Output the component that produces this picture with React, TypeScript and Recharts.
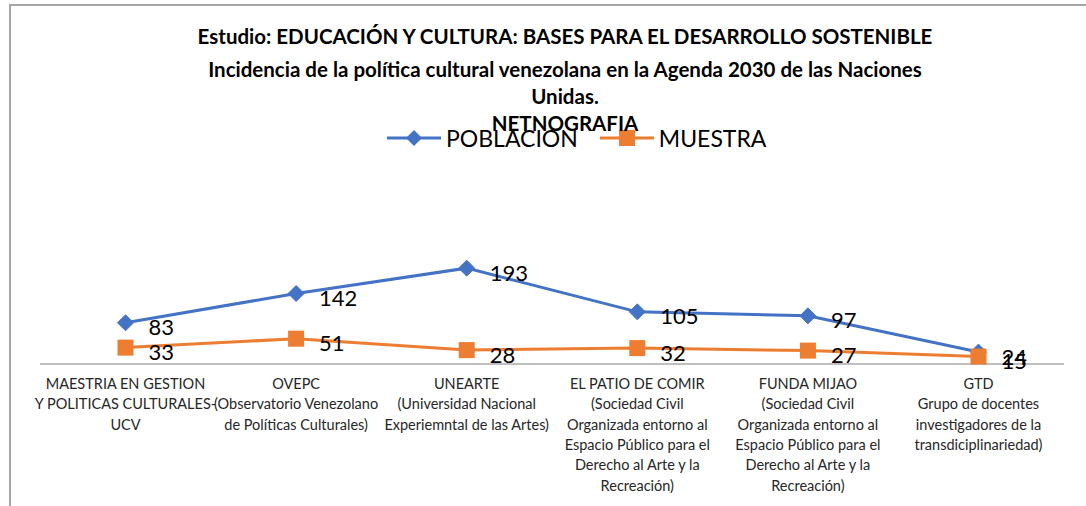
import { LineChart, Line, XAxis, YAxis, LabelList } from 'recharts';

const FONT = 'Lato, "Open Sans", sans-serif';
const BLUE = '#4472C4';
const ORANGE = '#ED7D31';

const titleLines = [
  'Estudio: EDUCACIÓN Y CULTURA: BASES PARA EL DESARROLLO SOSTENIBLE',
  'Incidencia de la política cultural venezolana en la Agenda 2030 de las Naciones',
  'Unidas.',
  'NETNOGRAFIA',
];

const categories = [
  'MAESTRIA EN GESTION\nY POLITICAS CULTURALES-\nUCV',
  'OVEPC\n(Observatorio Venezolano\nde Políticas Culturales)',
  'UNEARTE\n(Universidad Nacional\nExperiemntal de las Artes)',
  'EL PATIO DE COMIR\n(Sociedad Civil\nOrganizada entorno al\nEspacio Público para el\nDerecho al Arte y la\nRecreación)',
  'FUNDA MIJAO\n(Sociedad Civil\nOrganizada entorno al\nEspacio Público para el\nDerecho al Arte y la\nRecreación)',
  'GTD\nGrupo de docentes\ninvestigadores de la\ntransdiciplinariedad)',
];

const poblacion = [83, 142, 193, 105, 97, 24];
const muestra = [33, 51, 28, 32, 27, 15];

const data = categories.map((name, i) => ({
  name,
  poblacion: poblacion[i],
  muestra: muestra[i],
}));

function CategoryTick(props: any) {
  const { x, y, payload } = props;
  const lines = String(payload.value).split('\n');
  return (
    <text x={x} y={y} textAnchor="middle" fontFamily={FONT} fontSize={14.5} fill="#262626">
      {lines.map((line, i) => (
        <tspan key={i} x={x} dy={i === 0 ? 25 : 20.3}>
          {line}
        </tspan>
      ))}
    </text>
  );
}

function Diamond(props: any) {
  const { cx, cy } = props;
  if (cx == null || cy == null) return null;
  const r = 8;
  return (
    <path
      d={`M${cx},${cy - r} L${cx + r},${cy} L${cx},${cy + r} L${cx - r},${cy} Z`}
      fill={BLUE}
      stroke={BLUE}
      strokeWidth={1}
    />
  );
}

function Square(props: any) {
  const { cx, cy } = props;
  if (cx == null || cy == null) return null;
  const s = 8;
  return <rect x={cx - s} y={cy - s} width={s * 2} height={s * 2} fill={ORANGE} />;
}

function ValueLabel(props: any) {
  const { x, y, value } = props;
  return (
    <text x={x + 23} y={y + 4} dominantBaseline="central" fontFamily={FONT} fontSize={22} fill="#000">
      {value}
    </text>
  );
}

function LegendBox() {
  const item = (color: string, label: string, marker: 'diamond' | 'square') => (
    <div style={{ display: 'flex', alignItems: 'center' }}>
      <svg width={54} height={20}>
        <line x1={0} y1={10} x2={54} y2={10} stroke={color} strokeWidth={3} />
        {marker === 'diamond' ? (
          <path d="M27,2 L35,10 L27,18 L19,10 Z" fill={color} />
        ) : (
          <rect x={19} y={2} width={16} height={16} fill={color} />
        )}
      </svg>
      <span style={{ fontFamily: FONT, fontSize: 23, color: '#000', marginLeft: 5 }}>{label}</span>
    </div>
  );
  return (
    <div
      style={{
        position: 'absolute',
        left: 387,
        top: 124,
        height: 28,
        display: 'flex',
        alignItems: 'center',
      }}
    >
      {item(BLUE, 'POBLACION', 'diamond')}
      <div style={{ width: 22 }} />
      {item(ORANGE, 'MUESTRA', 'square')}
    </div>
  );
}

export default function App() {
  return (
    <div
      style={{
        position: 'absolute',
        left: 0,
        top: 0,
        width: 1086,
        height: 506,
        background: '#fff',
        overflow: 'hidden',
      }}
    >
      <div
        style={{
          position: 'absolute',
          left: 9,
          top: 4,
          right: -4,
          bottom: -4,
          borderTop: '2px solid #a6a6a6',
          borderLeft: '2px solid #a6a6a6',
        }}
      />
      <LineChart
        width={1086}
        height={506}
        data={data}
        margin={{ top: 215, right: 22, bottom: 12, left: 40 }}
      >
        <XAxis
          dataKey="name"
          interval={0}
          height={130}
          padding={{ left: 85.5, right: 85.5 }}
          tickLine={false}
          tickSize={0}
          tickMargin={0}
          axisLine={{ stroke: '#bfbfbf', strokeWidth: 2 }}
          tick={<CategoryTick />}
        />
        <YAxis hide domain={[0, 300]} />
        <Line
          type="linear"
          dataKey="poblacion"
          name="POBLACION"
          stroke={BLUE}
          strokeWidth={3}
          dot={<Diamond />}
          isAnimationActive={false}
        >
          <LabelList dataKey="poblacion" content={<ValueLabel />} />
        </Line>
        <Line
          type="linear"
          dataKey="muestra"
          name="MUESTRA"
          stroke={ORANGE}
          strokeWidth={3}
          dot={<Square />}
          isAnimationActive={false}
        >
          <LabelList dataKey="muestra" content={<ValueLabel />} />
        </Line>
      </LineChart>
      <LegendBox />
      <div
        style={{
          position: 'absolute',
          left: 0,
          top: 23,
          width: 1130,
          textAlign: 'center',
          fontFamily: FONT,
          fontWeight: 700,
          fontSize: 20.5,
          color: '#000',
          lineHeight: '27px',
        }}
      >
        {titleLines.map((t, i) => (
          <div key={i} style={{ marginTop: i === 1 ? 6 : 0 }}>
            {t}
          </div>
        ))}
      </div>
    </div>
  );
}
